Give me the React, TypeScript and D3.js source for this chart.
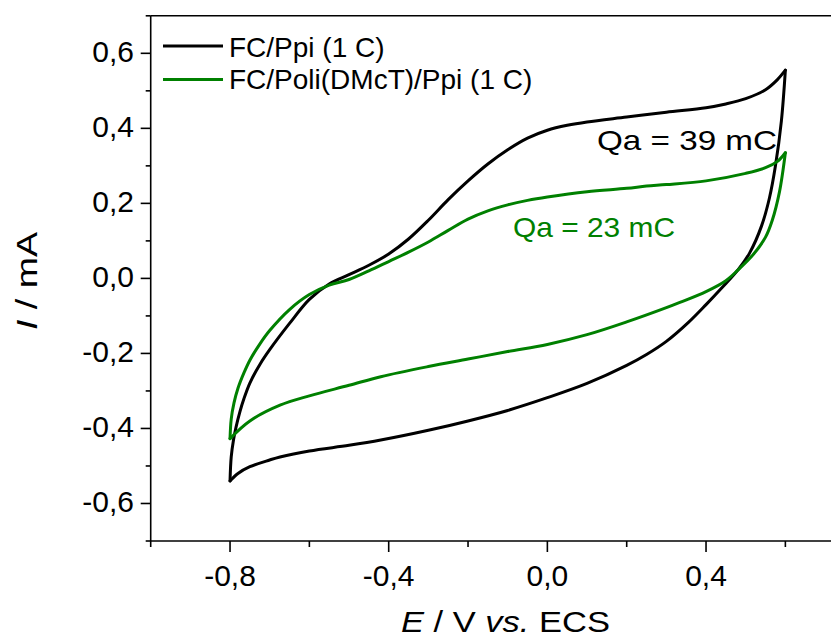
import React from "react";
import * as d3 from "d3";

// ---- data (E / V vs. ECS, I / mA) ----
const blackUpperE = [-0.8, -0.797, -0.791, -0.785, -0.775, -0.765, -0.75, -0.724, -0.7, -0.65, -0.6, -0.55, -0.5, -0.45, -0.4, -0.35, -0.3, -0.25, -0.2, -0.15, -0.1, -0.05, 0.0, 0.05, 0.1, 0.2, 0.3, 0.4, 0.45, 0.5, 0.55, 0.58, 0.6];
const blackUpperI = [-0.54, -0.476, -0.429, -0.397, -0.355, -0.321, -0.279, -0.228, -0.19, -0.12, -0.056, -0.015, 0.01, 0.035, 0.065, 0.105, 0.155, 0.21, 0.26, 0.305, 0.343, 0.374, 0.395, 0.408, 0.417, 0.43, 0.443, 0.455, 0.465, 0.479, 0.503, 0.53, 0.555];
const blackLowerE = [-0.8, -0.78, -0.75, -0.7, -0.674, -0.6, -0.5, -0.42, -0.3, -0.2, -0.1, 0.0, 0.1, 0.2, 0.25, 0.3, 0.355, 0.4, 0.44, 0.48, 0.51, 0.54, 0.56, 0.575, 0.59, 0.6];
const blackLowerI = [-0.54, -0.52, -0.502, -0.484, -0.476, -0.46, -0.445, -0.431, -0.405, -0.38, -0.352, -0.318, -0.28, -0.232, -0.203, -0.168, -0.118, -0.07, -0.025, 0.022, 0.068, 0.14, 0.215, 0.3, 0.42, 0.555];

const greenUpperE = [-0.8, -0.797, -0.79, -0.78, -0.765, -0.75, -0.725, -0.7, -0.65, -0.6, -0.55, -0.5, -0.45, -0.4, -0.35, -0.3, -0.25, -0.2, -0.15, -0.1, -0.05, 0.0, 0.1, 0.2, 0.25, 0.3, 0.4, 0.5, 0.55, 0.58, 0.6];
const greenUpperI = [-0.427, -0.375, -0.332, -0.293, -0.252, -0.218, -0.175, -0.139, -0.083, -0.043, -0.018, -0.003, 0.02, 0.045, 0.07, 0.097, 0.128, 0.158, 0.18, 0.196, 0.208, 0.217, 0.231, 0.24, 0.246, 0.25, 0.26, 0.28, 0.295, 0.312, 0.335];
const greenLowerE = [-0.8, -0.75, -0.674, -0.6, -0.5, -0.42, -0.3, -0.2, -0.1, 0.0, 0.1, 0.2, 0.3, 0.334, 0.4, 0.45, 0.48, 0.52, 0.55, 0.567, 0.585, 0.6];
const greenLowerI = [-0.427, -0.38, -0.338, -0.313, -0.285, -0.262, -0.235, -0.215, -0.195, -0.176, -0.15, -0.116, -0.078, -0.064, -0.035, -0.006, 0.022, 0.065, 0.11, 0.155, 0.23, 0.335];

const xMajorTicks = [-0.8, -0.4, 0.0, 0.4];
const xMinorTicks = [-1.0, -0.6, -0.2, 0.2, 0.6];
const yMajorTicks = [-0.6, -0.4, -0.2, 0.0, 0.2, 0.4, 0.6];
const yMinorTicks = [-0.7, -0.5, -0.3, -0.1, 0.1, 0.3, 0.5, 0.7];

const seriesNames = ["FC/Ppi (1 C)", "FC/Poli(DMcT)/Ppi (1 C)"];
const seriesColors = ["#000000", "#008000"];
const annotations = ["Qa = 39 mC", "Qa = 23 mC"];

const W = 831;
const H = 639;
const FONT = "Liberation Sans, Arial, sans-serif";

const fmt = (v: number) => v.toFixed(1).replace(".", ",");

export default function App() {
  const x = d3.scaleLinear().domain([-1.0, 0.74]).range([150.7, 840.9]);
  const y = d3.scaleLinear().domain([-0.7, 0.7]).range([541, 15.8]);

  const line = d3
    .line<[number, number]>()
    .x((d) => x(d[0]))
    .y((d) => y(d[1]))
    .curve(d3.curveCatmullRom.alpha(0.5));

  const zip = (a: number[], b: number[]) => a.map((v, i) => [v, b[i]] as [number, number]);

  const branches = [
    { color: seriesColors[0], pts: [zip(blackUpperE, blackUpperI), zip(blackLowerE, blackLowerI)] },
    { color: seriesColors[1], pts: [zip(greenUpperE, greenUpperI), zip(greenLowerE, greenLowerI)] },
  ];

  const x0 = x(-1.0);
  const yb = y(-0.7);
  const yt = y(0.7);

  return (
    <svg
      width={W}
      height={H}
      style={{ position: "absolute", left: 0, top: 0, background: "#fff" }}
      fontFamily={FONT}
    >
      <rect x={0} y={0} width={W} height={H} fill="#fff" />
      {/* curves */}
      {branches.map((b, i) => (
        <g key={i}>
          {b.pts.map((p, j) => (
            <path key={j} d={line(p) || ""} fill="none" stroke={b.color} strokeWidth={3} strokeLinejoin="round" strokeLinecap="round" />
          ))}
        </g>
      ))}

      {/* frame */}
      <line x1={x0} x2={900} y1={yb} y2={yb} stroke="#000" strokeWidth={1.6} />
      <line x1={x0} x2={900} y1={yt} y2={yt} stroke="#000" strokeWidth={1.6} />
      <line x1={x0} x2={x0} y1={yt} y2={yb} stroke="#000" strokeWidth={1.6} />

      {/* x ticks */}
      {xMajorTicks.map((t) => (
        <g key={"xm" + t}>
          <line x1={x(t)} x2={x(t)} y1={yb} y2={yb + 11} stroke="#000" strokeWidth={1.6} />
          <text x={x(t)} y={586} textAnchor="middle" fontSize={30}>
            {fmt(t)}
          </text>
        </g>
      ))}
      {xMinorTicks.map((t) => (
        <line key={"xn" + t} x1={x(t)} x2={x(t)} y1={yb} y2={yb + 6} stroke="#000" strokeWidth={1.6} />
      ))}

      {/* y ticks */}
      {yMajorTicks.map((t) => (
        <g key={"ym" + t}>
          <line x1={x0} x2={x0 - 10} y1={y(t)} y2={y(t)} stroke="#000" strokeWidth={1.6} />
          <text x={134} y={y(t) + 8.5} textAnchor="end" fontSize={30}>
            {fmt(t)}
          </text>
        </g>
      ))}
      {yMinorTicks.map((t) => (
        <line key={"yn" + t} x1={x0} x2={x0 - 5} y1={y(t)} y2={y(t)} stroke="#000" strokeWidth={1.6} />
      ))}

      {/* axis titles */}
      <text x={401} y={632} fontSize={30} textLength={209} lengthAdjust="spacingAndGlyphs">
        <tspan fontStyle="italic">E</tspan> / V <tspan fontStyle="italic">vs.</tspan> ECS
      </text>
      <text
        transform="translate(37,330) rotate(-90)"
        x={0}
        y={0}
        fontSize={30}
        textLength={98}
        lengthAdjust="spacingAndGlyphs"
      >
        <tspan fontStyle="italic">I</tspan> / mA
      </text>

      {/* legend */}
      {seriesNames.map((n, i) => (
        <g key={n}>
          <line x1={163} x2={223} y1={46 + i * 33.5} y2={46 + i * 33.5} stroke={seriesColors[i]} strokeWidth={3} />
          <text x={229} y={56.5 + i * 32.5} fontSize={28}>
            {n}
          </text>
        </g>
      ))}

      {/* annotations */}
      <text x={597} y={150} fontSize={28} fill={seriesColors[0]} textLength={180} lengthAdjust="spacingAndGlyphs">
        {annotations[0]}
      </text>
      <text x={513} y={237} fontSize={28} fill={seriesColors[1]} textLength={162} lengthAdjust="spacingAndGlyphs">
        {annotations[1]}
      </text>
    </svg>
  );
}
